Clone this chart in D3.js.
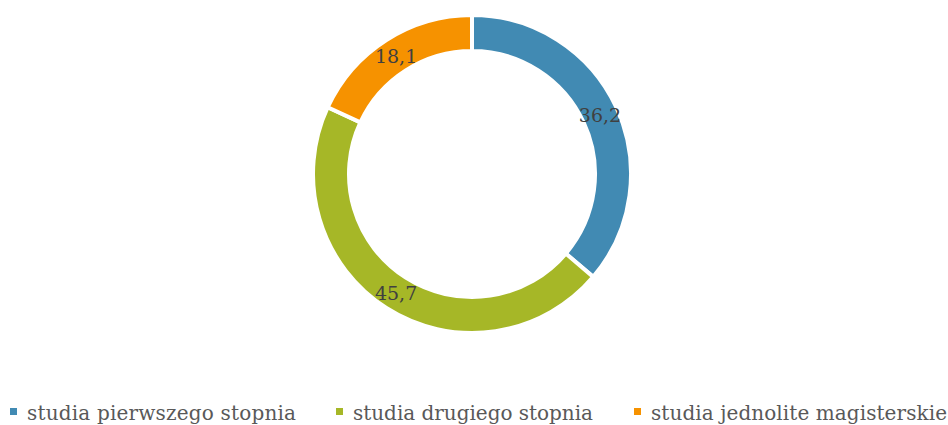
<!DOCTYPE html>
<html><head><meta charset="utf-8">
<script src="https://cdn.jsdelivr.net/npm/d3@7"></script>
<style>html,body{margin:0;padding:0;background:#fff;}</style>
</head><body>
<script>
const categories = ["studia pierwszego stopnia", "studia drugiego stopnia", "studia jednolite magisterskie"];
const values = [36.2, 45.7, 18.1];
const labels = ["36,2", "45,7", "18,1"];
const colors = ["#418AB3", "#A6B727", "#F69200"];

const W = 948, H = 425;
const cx = 472, cy = 174, R = 159, r = 123;
const svg = d3.select("body").append("svg").attr("width", W).attr("height", H);
const g = svg.append("g").attr("transform", `translate(${cx},${cy})`);

const pie = d3.pie().sort(null).value(d => d)(values);
const arc = d3.arc().innerRadius(r).outerRadius(R);
const labelArc = d3.arc().innerRadius((r + R) / 2).outerRadius((r + R) / 2);

g.selectAll("path").data(pie).join("path")
  .attr("d", arc).attr("fill", (d, i) => colors[i])
  .attr("stroke", "#fff").attr("stroke-width", 4).attr("stroke-linejoin", "miter");

g.selectAll("text").data(pie).join("text")
  .attr("transform", d => `translate(${labelArc.centroid(d)})`)
  .attr("text-anchor", "middle").attr("dy", "0.4em")
  .attr("font-family", "'DejaVu Serif', serif").attr("font-size", 19)
  .attr("fill", "#404040")
  .text((d, i) => labels[i]);

const legX = [10, 336, 634];
const legW = [269, 240, 296];
const leg = svg.append("g");
categories.forEach((c, i) => {
  leg.append("rect").attr("x", legX[i]).attr("y", 408).attr("width", 7).attr("height", 7).attr("fill", colors[i]);
  leg.append("text").attr("x", legX[i] + 17).attr("y", 420)
    .attr("font-family", "'DejaVu Serif', serif").attr("font-size", 20)
    .attr("textLength", legW[i]).attr("lengthAdjust", "spacing")
    .attr("fill", "#595959").text(c);
});
</script>
</body></html>
